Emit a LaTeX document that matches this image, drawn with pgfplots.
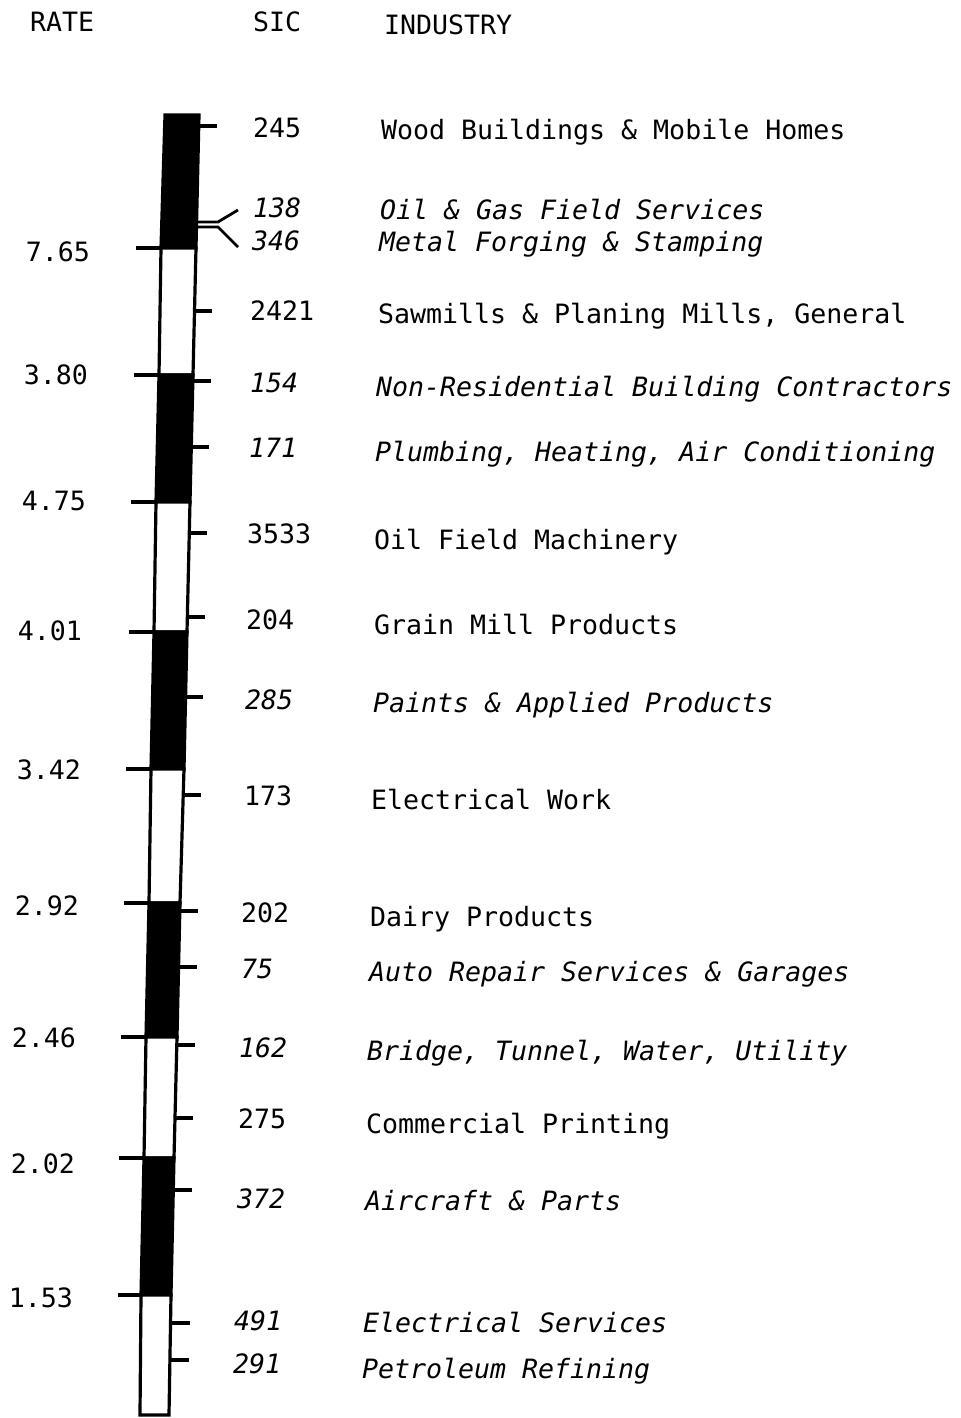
\documentclass[border=0pt]{standalone}
\usepackage{pgfplots}
\pgfplotsset{compat=1.18}
\usepackage{fontspec}
\setmainfont{DejaVu Sans Mono}
\newfontfamily\up{DejaVu Sans Mono}
\newfontfamily\scrfont{DejaVu Sans Mono Oblique}
\newcommand{\scr}{\scrfont}
\tikzset{lbl/.style={inner sep=0pt, outer sep=0pt, font=\fontsize{13.3pt}{16pt}\selectfont}}
\pgfplotsset{tk/.style={black, line width=1.7pt}, seg/.style={draw=black, line width=1.6pt}}
\begin{document}
\begin{tikzpicture}
\begin{axis}[scale only axis, width=480pt, height=709pt,
  xmin=0, xmax=960, ymin=0, ymax=1418, y dir=reverse,
  hide axis, clip=false]
\path (axis cs:0,0) rectangle (axis cs:960,1418);
% bar segments (x left/right at each boundary, y boundary)
\addplot[seg, fill=black] coordinates {(165,115) (199,115) (196,248) (161,248)} -- cycle;
\addplot[seg, fill=white] coordinates {(161,248) (196,248) (193,375) (159,375)} -- cycle;
\addplot[seg, fill=black] coordinates {(159,375) (193,375) (190,502) (156,502)} -- cycle;
\addplot[seg, fill=white] coordinates {(156,502) (190,502) (187,632) (154,632)} -- cycle;
\addplot[seg, fill=black] coordinates {(154,632) (187,632) (184,769) (151,769)} -- cycle;
\addplot[seg, fill=white] coordinates {(151,769) (184,769) (180,903) (149,903)} -- cycle;
\addplot[seg, fill=black] coordinates {(149,903) (180,903) (177,1037) (146,1037)} -- cycle;
\addplot[seg, fill=white] coordinates {(146,1037) (177,1037) (174,1158) (144,1158)} -- cycle;
\addplot[seg, fill=black] coordinates {(144,1158) (174,1158) (171,1295) (141,1295)} -- cycle;
\addplot[seg, fill=white] coordinates {(141,1295) (171,1295) (169,1415) (140,1415)} -- cycle;
% rate ticks (left)
\addplot[tk] coordinates {(136,248) (161,248)};
\addplot[tk] coordinates {(134,375) (159,375)};
\addplot[tk] coordinates {(131,502) (156,502)};
\addplot[tk] coordinates {(129,632) (154,632)};
\addplot[tk] coordinates {(126,769) (151,769)};
\addplot[tk] coordinates {(124,903) (149,903)};
\addplot[tk] coordinates {(121,1037) (146,1037)};
\addplot[tk] coordinates {(119,1158) (144,1158)};
\addplot[tk] coordinates {(118,1295) (141,1295)};
% industry ticks (right)
\addplot[tk] coordinates {(199,126) (217,126)};
\addplot[black, line width=1.4pt] coordinates {(197,222) (218,222) (238,210)};
\addplot[black, line width=1.4pt] coordinates {(197,227) (218,227) (238,247)};
\addplot[tk] coordinates {(194,311) (212,311)};
\addplot[tk] coordinates {(193,381) (211,381)};
\addplot[tk] coordinates {(191,447) (209,447)};
\addplot[tk] coordinates {(189,533) (207,533)};
\addplot[tk] coordinates {(187,617) (205,617)};
\addplot[tk] coordinates {(185,697) (203,697)};
\addplot[tk] coordinates {(183,795) (201,795)};
\addplot[tk] coordinates {(180,911) (198,911)};
\addplot[tk] coordinates {(179,967) (197,967)};
\addplot[tk] coordinates {(177,1045) (195,1045)};
\addplot[tk] coordinates {(175,1118) (193,1118)};
\addplot[tk] coordinates {(174,1190) (192,1190)};
\addplot[tk] coordinates {(171,1323) (190,1323)};
\addplot[tk] coordinates {(170,1360) (189,1360)};
% headers
\node[lbl, anchor=base west] at (axis cs:30,32) {RATE};
\node[lbl, anchor=base west] at (axis cs:253,32) {SIC};
\node[lbl, anchor=base west] at (axis cs:384,35) {INDUSTRY};
% rates
\node[lbl, anchor=base east] at (axis cs:90,261) {7.65};
\node[lbl, anchor=base east] at (axis cs:88,384) {3.80};
\node[lbl, anchor=base east] at (axis cs:86,510) {4.75};
\node[lbl, anchor=base east] at (axis cs:82,640) {4.01};
\node[lbl, anchor=base east] at (axis cs:81,779) {3.42};
\node[lbl, anchor=base east] at (axis cs:79,915) {2.92};
\node[lbl, anchor=base east] at (axis cs:76,1047) {2.46};
\node[lbl, anchor=base east] at (axis cs:75,1173) {2.02};
\node[lbl, anchor=base east] at (axis cs:73,1307) {1.53};
% SIC codes and industries
\node[lbl, anchor=base west] at (axis cs:253,137) {245};
\node[lbl, anchor=base west] at (axis cs:381,140) {Wood Buildings \& Mobile Homes};
\node[lbl, anchor=base west] at (axis cs:253,217) {\scr 138};
\node[lbl, anchor=base west] at (axis cs:380,219) {\scr Oil \& Gas Field Services};
\node[lbl, anchor=base west] at (axis cs:252,250) {\scr 346};
\node[lbl, anchor=base west] at (axis cs:379,251) {\scr Metal Forging \& Stamping};
\node[lbl, anchor=base west] at (axis cs:250,320) {2421};
\node[lbl, anchor=base west] at (axis cs:378,323) {Sawmills \& Planing Mills, General};
\node[lbl, anchor=base west] at (axis cs:250,392) {\scr 154};
\node[lbl, anchor=base west] at (axis cs:376,396) {\scr Non-Residential Building Contractors};
\node[lbl, anchor=base west] at (axis cs:249,457) {\scr 171};
\node[lbl, anchor=base west] at (axis cs:375,461) {\scr Plumbing, Heating, Air Conditioning};
\node[lbl, anchor=base west] at (axis cs:247,543) {3533};
\node[lbl, anchor=base west] at (axis cs:374,549) {Oil Field Machinery};
\node[lbl, anchor=base west] at (axis cs:246,629) {204};
\node[lbl, anchor=base west] at (axis cs:374,634) {Grain Mill Products};
\node[lbl, anchor=base west] at (axis cs:245,709) {\scr 285};
\node[lbl, anchor=base west] at (axis cs:373,712) {\scr Paints \& Applied Products};
\node[lbl, anchor=base west] at (axis cs:244,805) {173};
\node[lbl, anchor=base west] at (axis cs:371,809) {Electrical Work};
\node[lbl, anchor=base west] at (axis cs:241,922) {202};
\node[lbl, anchor=base west] at (axis cs:370,926) {Dairy Products};
\node[lbl, anchor=base west] at (axis cs:241,978) {\scr 75};
\node[lbl, anchor=base west] at (axis cs:369,981) {\scr Auto Repair Services \& Garages};
\node[lbl, anchor=base west] at (axis cs:239,1057) {\scr 162};
\node[lbl, anchor=base west] at (axis cs:367,1060) {\scr Bridge, Tunnel, Water, Utility};
\node[lbl, anchor=base west] at (axis cs:238,1128) {275};
\node[lbl, anchor=base west] at (axis cs:366,1133) {Commercial Printing};
\node[lbl, anchor=base west] at (axis cs:237,1208) {\scr 372};
\node[lbl, anchor=base west] at (axis cs:365,1210) {\scr Aircraft \& Parts};
\node[lbl, anchor=base west] at (axis cs:234,1330) {\scr 491};
\node[lbl, anchor=base west] at (axis cs:363,1332) {\scr Electrical Services};
\node[lbl, anchor=base west] at (axis cs:233,1373) {\scr 291};
\node[lbl, anchor=base west] at (axis cs:362,1378) {\scr Petroleum Refining};
\end{axis}
\end{tikzpicture}
\end{document}
